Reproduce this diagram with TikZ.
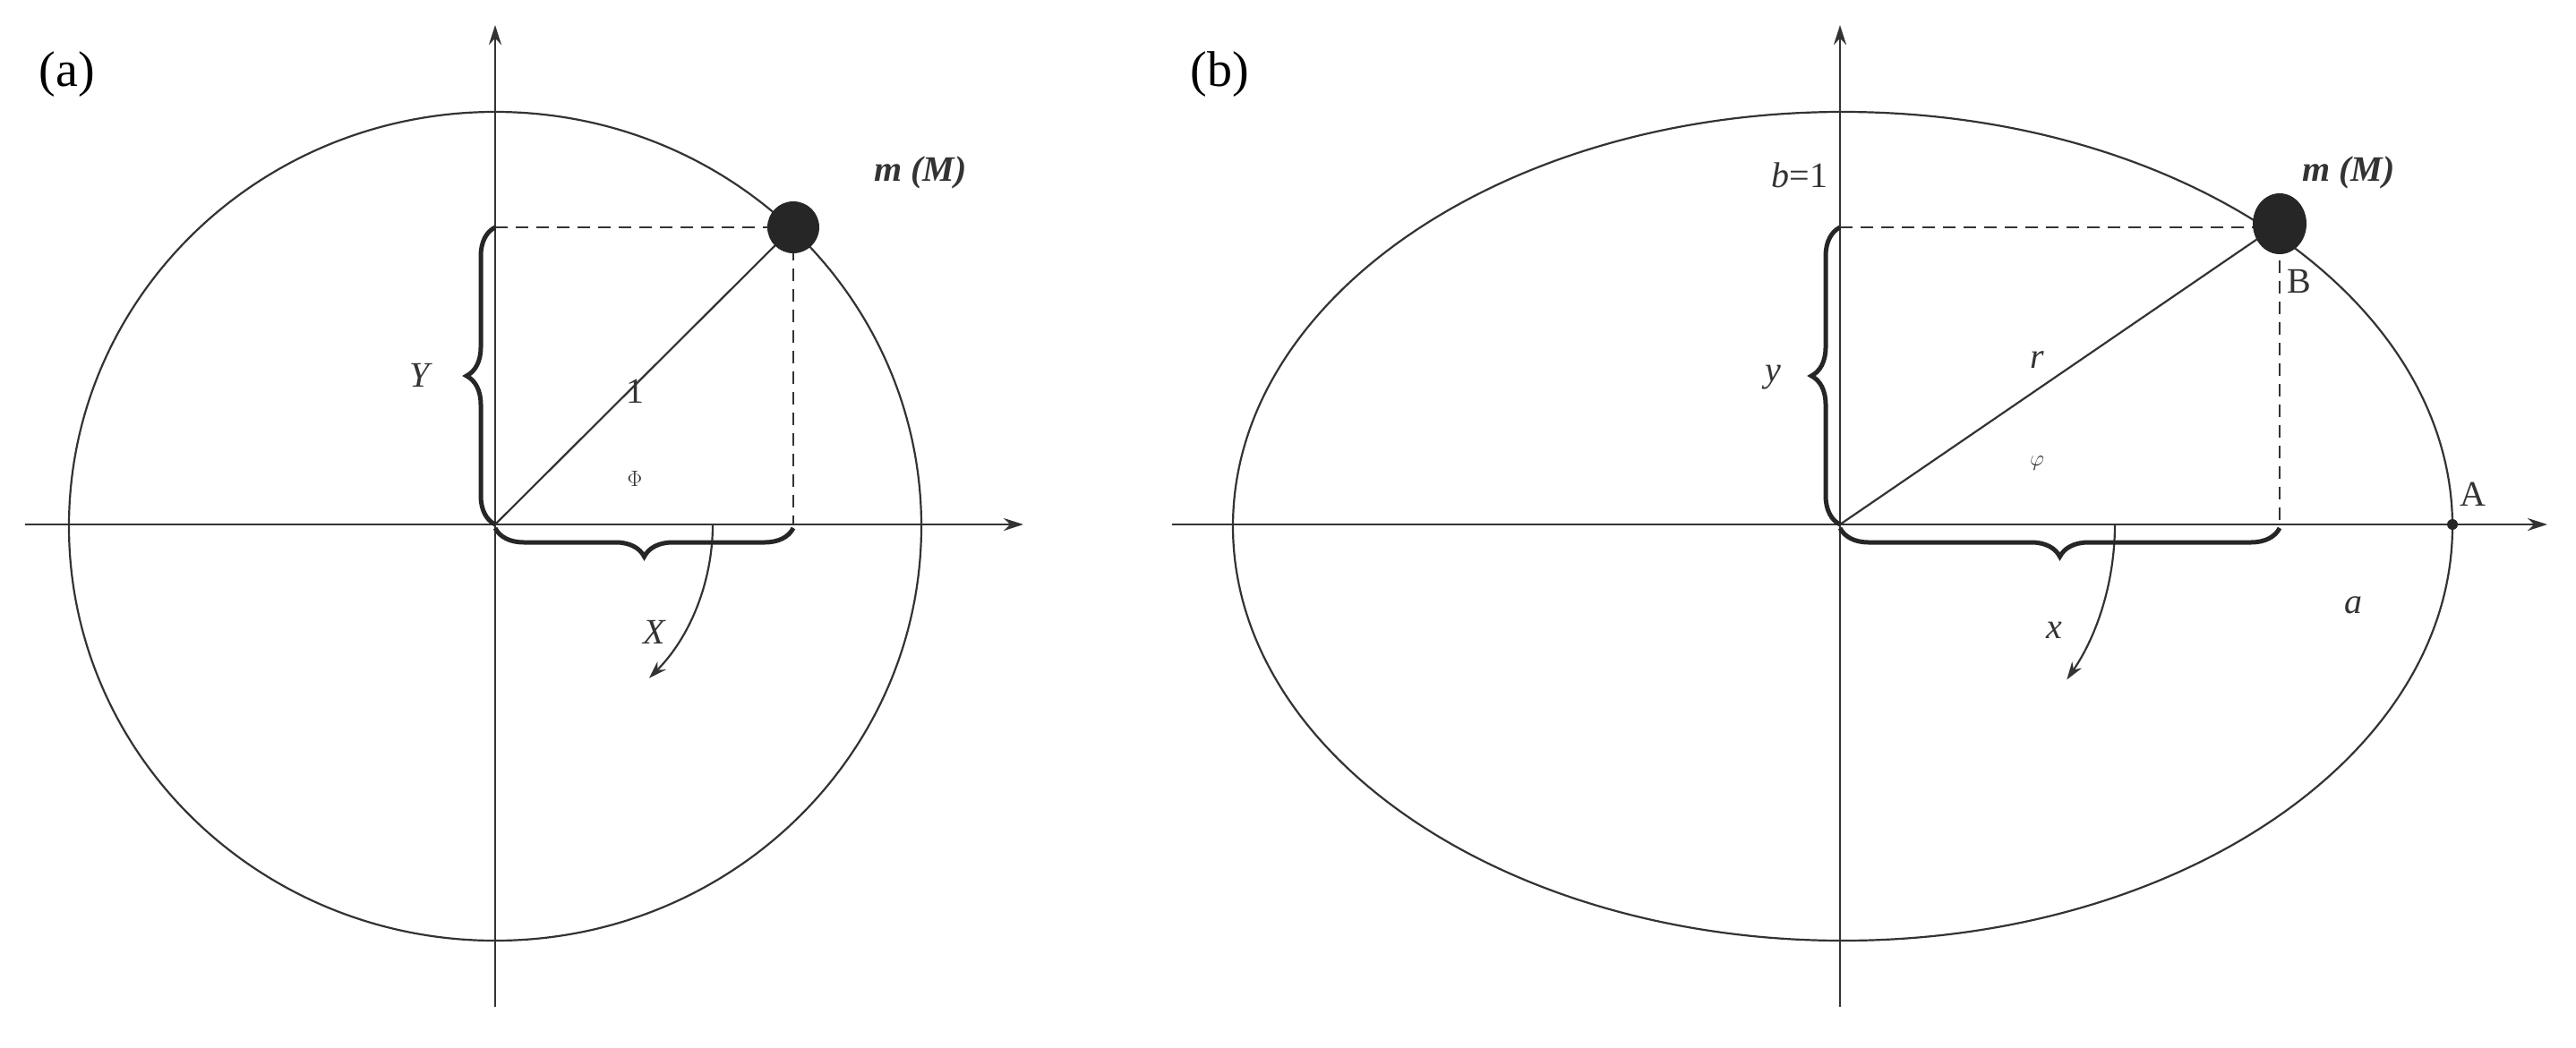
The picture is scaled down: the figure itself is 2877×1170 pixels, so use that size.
\documentclass[tikz,border=0pt]{standalone}
\usepackage{fontspec}
\setmainfont{Liberation Serif}
\usetikzlibrary{decorations.pathreplacing,arrows.meta}
\begin{document}
\begin{tikzpicture}[x=1pt,y=-1pt,
  ln/.style={line width=2.2pt,black!80},
  ax/.style={line width=2.6pt,black!80,-{Stealth[length=22pt,width=14pt]}},
  dsh/.style={line width=2.6pt,black!80,dash pattern=on 14pt off 9pt},
  br/.style={decorate,decoration={brace,amplitude=32pt},line width=5pt,black!85},
  lab/.style={font=\fontsize{40}{44}\selectfont,text=black!80},
  big/.style={font=\fontsize{56}{60}\selectfont}]
\useasboundingbox (0,0) rectangle (2877,1170);
% panel a
\coordinate (Oa) at (553,586);
\coordinate (Ma) at (886,254);
\draw[ln] (553,588) ellipse [x radius=476, y radius=463];
\draw[ax] (28,586) -- (1143,586);
\draw[ax] (553,1125) -- (553,28);
\draw[dsh] (553,254) -- (Ma);
\draw[dsh] (Ma) -- (886,586);
\draw[ln] (Oa) -- (Ma);
\draw[ln,-{Stealth[length=20pt,width=13pt]}] (796,586) arc[start angle=0,end angle=45,radius=243];
\fill[black!85] (Ma) circle (29);
\draw[br] (553,586) -- (553,254);
\draw[br] (886,590) -- (553,590);
\node[lab,font=\fontsize{40}{44}\selectfont\itshape] (Ya) at (469,419) {Y};
\node[lab] (one) at (709,437) {1};
\node[lab] (Phi) at (709,535) {$\Phi$};
\node[lab,font=\fontsize{40}{44}\selectfont\itshape] (Xa) at (731,706) {X};
\node[lab,font=\fontsize{40}{44}\selectfont\bfseries\itshape] (mMa) at (1028,193) {m (M)};
\node[big] (pa) at (75,83) {(a)};
% panel b
\coordinate (Ob) at (2055,586);
\coordinate (Mb) at (2546,250);
\draw[ln] (2058,588) ellipse [x radius=681, y radius=463];
\draw[ax] (1309,586) -- (2845,586);
\draw[ax] (2055,1125) -- (2055,28);
\draw[dsh] (2055,254) -- (2530,254);
\draw[dsh] (2546,268) -- (2546,586);
\draw[ln] (Ob) -- (Mb);
\draw[ln,-{Stealth[length=20pt,width=13pt]}] (2362,586) arc[start angle=0,end angle=34.4,radius=307];
\fill[black!85] (Mb) ellipse [x radius=30, y radius=34];
\fill[black!85] (2739,586) circle (6);
\draw[br] (2055,586) -- (2055,254);
\draw[br] (2546,590) -- (2055,590);
\node[lab,font=\fontsize{40}{44}\selectfont\itshape] (yb) at (1980,422) {y};
\node[lab,font=\fontsize{40}{44}\selectfont\itshape] (r) at (2275,402) {r};
\node[lab] (phi) at (2275,518) {$\varphi$};
\node[lab,font=\fontsize{40}{44}\selectfont\itshape] (xb) at (2294,704) {x};
\node[lab,font=\fontsize{40}{44}\selectfont\itshape] (ab) at (2628,676) {a};
\node[lab] (A) at (2762,552) {A};
\node[lab] (B) at (2568,314) {B};
\node[lab,anchor=east] (b1) at (2045,196) {\textit{b}=1};
\node[lab,font=\fontsize{40}{44}\selectfont\bfseries\itshape] (mMb) at (2623,193) {m (M)};
\node[big] (pb) at (1362,83) {(b)};
\end{tikzpicture}
\end{document}
